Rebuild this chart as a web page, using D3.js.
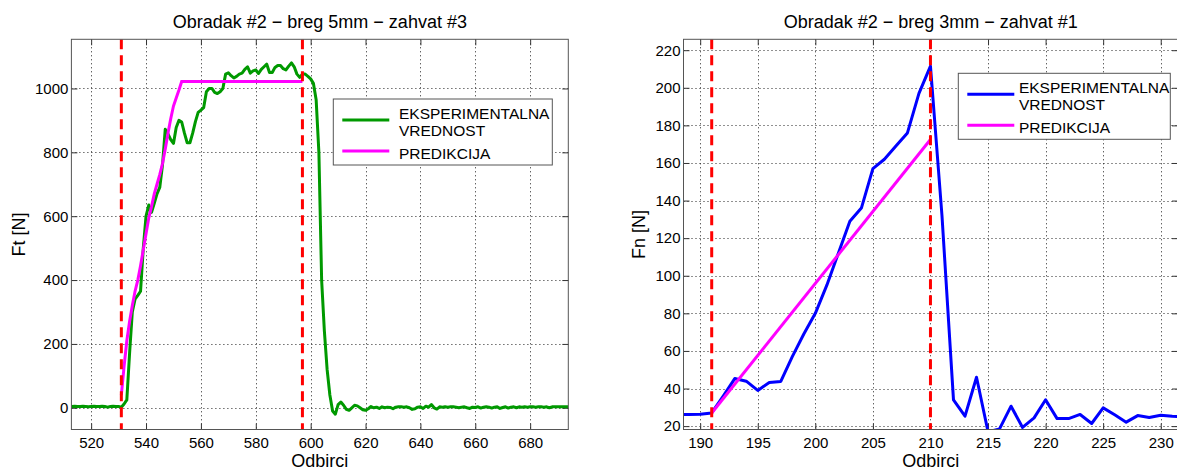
<!DOCTYPE html>
<html>
<head>
<meta charset="utf-8">
<script src="https://cdn.jsdelivr.net/npm/d3@7/dist/d3.min.js"></script>
<style>
  body { margin: 0; background: #fff; }
  svg { display: block; font-family: "Liberation Sans", Arial, sans-serif; }
</style>
</head>
<body>
<div id="chart"></div>
<script>
/* global d3 */

// ---- left chart: Ft, one value per sample starting at ftStart
const ftStart = 512
const ftValues = [
  4, 4, 5, 4, 4, 5, 4, 3, 4, 5, 4, 4, 5, 4, 2, 4, 5, 4, 4,
  2, 12, 25, 170, 300, 340, 352, 365, 500, 600, 635, 612, 640, 670,
  690, 760, 872, 858, 840, 828, 878, 900, 895, 860, 830, 830, 860, 896, 925, 932, 940, 990, 1000, 1000, 988, 984, 990, 1000,
  1045, 1049, 1040, 1033, 1038, 1045, 1048, 1060, 1068, 1048, 1055, 1058, 1047, 1060, 1068, 1076, 1050, 1050, 1066, 1072, 1072, 1062, 1058, 1070, 1080, 1068, 1045, 1035, 1045,
  1045, 1038, 1030, 1016, 965, 800, 400, 240, 120, 40, -10, -20, 10, 18, 8,
  -5, -8, 0, 8, 6, 0, -6, -8, -3, 4,
  0, 2, -2, 3, 0, 2, 1, -3, 2, 3,
  3, 2, 3, 0, -5, -3, 2, 3, -2, 5,
  2, 10, 0, -4, 3, 2, 3, 2, 3, 3,
  2, 0, 2, 3, 0, -2, 2, 1, 3, -1,
  2, 3, 2, -1, 2, 3, -2, 1, 3, -1,
  2, 3, 0, 3, 2, 3, 2, 3, 3, 2,
  3, 3, 2, 3, 0, 3, 3, 3, 3, 3,
  3, 3
]
const ftPredX = [531, 532, 533, 534, 535, 536, 537, 538, 539, 540, 541, 542, 543, 544, 545, 546, 547, 548, 549, 550, 551, 552, 553, 597]
const ftPredY = [40, 130, 210, 270, 320, 365, 400, 445, 495, 545, 595, 630, 670, 700, 730, 765, 810, 860, 905, 945, 970, 995, 1022, 1022]
const ftMarkers = [531, 597]
const ftXTicks = [520, 540, 560, 580, 600, 620, 640, 660, 680]
const ftYTicks = [0, 200, 400, 600, 800, 1000]

// ---- right chart: Fn
const fnX = [188, 189, 190, 191, 192, 193, 194, 195, 196, 197, 198, 199, 200, 201, 202, 203, 204, 205, 206, 207, 208, 209,
  210, 211, 212, 213, 214, 215, 216, 217, 218, 219, 220, 221, 222, 223, 224, 225, 226, 227, 228, 229, 230, 231, 232]
const fnValues = [26.2, 26.2, 26.3, 27, 36, 45.3, 43.9, 39, 43.2, 43.8, 57, 69, 80, 95, 112, 129, 136, 157, 162, 169, 176, 197,
  211.5, 132, 34, 25.3, 46, 17, 18.5, 30.6, 19.3, 24.4, 34, 24, 24, 26.2, 21.4, 29.7, 26, 22.1, 25.6, 24.6, 25.8, 25.2, 25]
const fnPredX = [191, 210]
const fnPredY = [27, 172.5]
const fnMarkers = [191, 210]
const fnXTicks = [190, 195, 200, 205, 210, 215, 220, 225, 230]
const fnYTicks = [20, 40, 60, 80, 100, 120, 140, 160, 180, 200, 220]

const legendLabels = ['EKSPERIMENTALNA', 'VREDNOST', 'PREDIKCIJA']

// Our canvas
const width = 1177,
  height = 470

const svg = d3.select('#chart')
  .append('svg')
  .attr('width', width)
  .attr('height', height)

const panels = [
  {
    id: 'ft',
    title: 'Obradak #2 \u2212 breg 5mm \u2212 zahvat #3',
    yLabel: 'Ft [N]',
    left: 71.4, right: 568.3, top: 39.3, bottom: 429.5,
    xDomain: [512.8, 693.9], yDomain: [-68, 1154],
    xs: ftValues.map((d, i) => ftStart + i), ys: ftValues,
    predX: ftPredX, predY: ftPredY, markers: ftMarkers,
    xTicks: ftXTicks, yTicks: ftYTicks,
    color: '#009900',
    yLabelX: 25,
    legend: { x: 333.3, y: 99, w: 219, h: 66, textX: 65.7 }
  },
  {
    id: 'fn',
    title: 'Obradak #2 \u2212 breg 3mm \u2212 zahvat #1',
    yLabel: 'Fn [N]',
    left: 683.5, right: 1178, top: 39.3, bottom: 429.5,
    xDomain: [188.55, 231.5], yDomain: [18.2, 225.8],
    xs: fnX, ys: fnValues,
    predX: fnPredX, predY: fnPredY, markers: fnMarkers,
    xTicks: fnXTicks, yTicks: fnYTicks,
    color: '#0000ff',
    yLabelX: 645,
    legend: { x: 958.3, y: 73.3, w: 212, h: 66, textX: 60.6 }
  }
]

let drawPanel = (p) => {
  const x = d3.scaleLinear().domain(p.xDomain).range([p.left, p.right])
  const y = d3.scaleLinear().domain(p.yDomain).range([p.bottom, p.top])
  const g = svg.append('g')

  g.append('clipPath').attr('id', 'clip-' + p.id)
    .append('rect')
    .attr('x', p.left).attr('y', p.top)
    .attr('width', p.right - p.left).attr('height', p.bottom - p.top)

  // dotted grid (snapped to pixels so the dots stay dark)
  const snap = v => Math.round(v) + 0.5
  g.append('g').selectAll('line.gx')
    .data(p.xTicks)
    .enter().append('line')
    .attr('x1', d => snap(x(d))).attr('x2', d => snap(x(d)))
    .attr('y1', p.top).attr('y2', p.bottom)
    .attr('stroke', '#222').attr('stroke-width', 1).attr('stroke-dasharray', '1,3')
  g.append('g').selectAll('line.gy')
    .data(p.yTicks)
    .enter().append('line')
    .attr('x1', p.left).attr('x2', p.right)
    .attr('y1', d => snap(y(d))).attr('y2', d => snap(y(d)))
    .attr('stroke', '#222').attr('stroke-width', 1).attr('stroke-dasharray', '1,3')

  // axes, ticks pointing inwards like matlab
  const fmt = d3.format('d')
  const axB = g.append('g').attr('transform', `translate(0,${p.bottom})`)
    .call(d3.axisBottom(x).tickValues(p.xTicks).tickFormat(fmt).tickSizeInner(-6).tickSizeOuter(0).tickPadding(8))
  const axL = g.append('g').attr('transform', `translate(${p.left},0)`)
    .call(d3.axisLeft(y).tickValues(p.yTicks).tickFormat(fmt).tickSizeInner(-6).tickSizeOuter(0).tickPadding(3))
  const axT = g.append('g').attr('transform', `translate(0,${p.top})`)
    .call(d3.axisTop(x).tickValues(p.xTicks).tickSizeInner(-6).tickSizeOuter(0).tickFormat(''))
  const axR = g.append('g').attr('transform', `translate(${p.right},0)`)
    .call(d3.axisRight(y).tickValues(p.yTicks).tickSizeInner(-6).tickSizeOuter(0).tickFormat(''))
  ;[axB, axL, axT, axR].forEach(a => {
    a.select('.domain').remove()
    a.selectAll('line').attr('stroke', '#333')
    a.selectAll('text').attr('fill', '#000').style('font-size', '15px')
      .style('font-family', '"Liberation Sans", Arial, sans-serif')
  })

  const plot = g.append('g').attr('clip-path', `url(#clip-${p.id})`)
  const line = d3.line().x(d => x(d[0])).y(d => y(d[1]))

  plot.append('path')
    .datum(p.xs.map((d, i) => [d, p.ys[i]]))
    .attr('d', line)
    .attr('fill', 'none').attr('stroke', p.color).attr('stroke-width', 3)
    .attr('stroke-linejoin', 'round')

  plot.append('path')
    .datum(p.predX.map((d, i) => [d, p.predY[i]]))
    .attr('d', line)
    .attr('fill', 'none').attr('stroke', '#ff00ff').attr('stroke-width', 3)

  plot.selectAll('line.marker')
    .data(p.markers)
    .enter().append('line')
    .attr('x1', d => x(d)).attr('x2', d => x(d))
    .attr('y1', p.top).attr('y2', p.bottom)
    .attr('stroke', '#ff0000').attr('stroke-width', 3).attr('stroke-dasharray', '10,6')

  // box
  g.append('rect')
    .attr('x', p.left).attr('y', p.top)
    .attr('width', p.right - p.left).attr('height', p.bottom - p.top)
    .attr('fill', 'none').attr('stroke', '#555').attr('stroke-width', 1)

  // legend
  const L = p.legend
  const lg = g.append('g').attr('transform', `translate(${L.x},${L.y})`)
  lg.append('rect').attr('width', L.w).attr('height', L.h)
    .attr('fill', '#fff').attr('stroke', '#555').attr('stroke-width', 1)
  lg.append('line').attr('x1', 9).attr('x2', 56).attr('y1', 21).attr('y2', 21)
    .attr('stroke', p.color).attr('stroke-width', 3)
  lg.append('line').attr('x1', 9).attr('x2', 56).attr('y1', 52).attr('y2', 52)
    .attr('stroke', '#ff00ff').attr('stroke-width', 3)
  lg.selectAll('text')
    .data(legendLabels)
    .enter().append('text')
    .attr('x', L.textX)
    .attr('y', (d, i) => [19.5, 37, 59.5][i])
    .style('font-size', '15.5px')
    .text(d => d)

  // titles
  g.append('text')
    .attr('x', (p.left + p.right) / 2).attr('y', 28)
    .attr('text-anchor', 'middle').style('font-size', '18px')
    .text(p.title)
  g.append('text')
    .attr('x', (p.left + p.right) / 2).attr('y', 467)
    .attr('text-anchor', 'middle').style('font-size', '18px')
    .text('Odbirci')
  g.append('text')
    .attr('transform', `translate(${p.yLabelX},${(p.top + p.bottom) / 2}) rotate(-90)`)
    .attr('text-anchor', 'middle').style('font-size', '18px')
    .text(p.yLabel)
}

panels.forEach(drawPanel)
</script>
</body>
</html>
